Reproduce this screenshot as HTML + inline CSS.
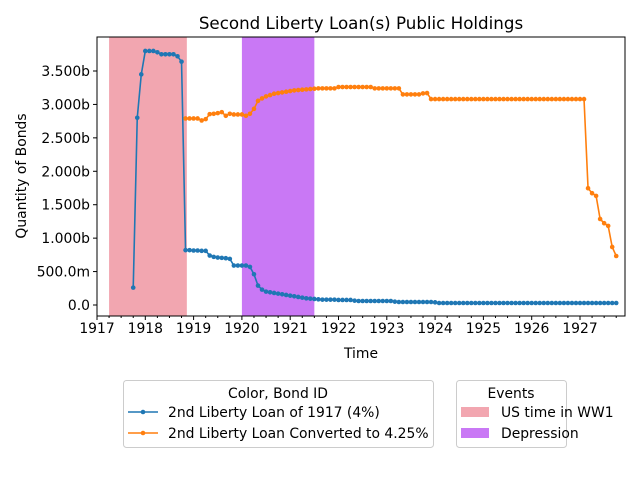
<!DOCTYPE html>
<html><head><meta charset="utf-8"><style>
body{margin:0;background:#fff}
svg{display:block;font-family:"DejaVu Sans","Liberation Sans",sans-serif}
</style></head><body>
<svg id="chart" width="640" height="480" viewBox="0 0 640 480">
<g id="spans"></g><g id="series"></g><g id="axes"></g>
<text x="361" y="29" font-size="16.7" text-anchor="middle">Second Liberty Loan(s) Public Holdings</text>
<text x="361" y="358" font-size="13.9" text-anchor="middle">Time</text>
<text x="26" y="176" font-size="13.9" text-anchor="middle" transform="rotate(-90 26 176)">Quantity of Bonds</text>
<g>
<rect x="123.5" y="380.5" width="310" height="67" rx="3" fill="#fff" stroke="#ccc"/>
<text x="278" y="398" font-size="13.9" text-anchor="middle">Color, Bond ID</text>
<g><line x1="128" x2="158" y1="412" y2="412" stroke="#1f77b4" stroke-width="1.6"/><circle cx="143" cy="412" r="2.3" fill="#1f77b4"/><text x="168" y="417" font-size="13.9">2nd Liberty Loan of 1917 (4%)</text></g>
<g><line x1="128" x2="158" y1="433" y2="433" stroke="#ff7f0e" stroke-width="1.6"/><circle cx="143" cy="433" r="2.3" fill="#ff7f0e"/><text x="168" y="438" font-size="13.9">2nd Liberty Loan Converted to 4.25%</text></g>
</g>
<g>
<rect x="456.5" y="380.5" width="110" height="67" rx="3" fill="#fff" stroke="#ccc"/>
<text x="511" y="398" font-size="13.9" text-anchor="middle">Events</text>
<g><rect x="461" y="407" width="28" height="10" fill="#f2a6b0"/><text x="501" y="417" font-size="13.9">US time in WW1</text></g>
<g><rect x="461" y="428" width="28" height="10" fill="#c978f5"/><text x="501" y="438" font-size="13.9">Depression</text></g>
</g>
</svg>
<script>
const blueStart = 1917.75;
const blueValues = [260,2800,3450,
3800,3800,3800,3780,3750,3750,3750,3750,3720,3640,820,820,
815,815,810,810,740,720,710,705,700,690,590,590,
590,590,570,460,290,230,200,190,180,170,160,150,
140,130,120,110,100,95,90,85,80,80,80,80,
75,75,75,75,65,60,60,60,60,60,60,60,
60,60,50,45,45,45,45,45,45,45,45,45,
40,30,30,30,30,30,30,30,30,30,30,30,
30,30,30,30,30,30,30,30,30,30,30,30,
30,30,30,30,30,30,30,30,30,30,30,30,
30,30,30,30,30,30,30,30,30,30];
const orangeStart = 1918.8333;
const orangeValues = [2790,2790,
2790,2790,2760,2780,2855,2860,2870,2885,2830,2860,2850,2850,
2850,2830,2860,2934,3054,3090,3120,3140,3160,3170,3180,3190,
3200,3210,3215,3220,3225,3230,3235,3240,3240,3240,3240,3240,
3260,3260,3260,3260,3260,3260,3260,3260,3260,3240,3240,3240,
3240,3240,3240,3240,3150,3150,3150,3150,3150,3165,3170,3080,
3080,3080,3080,3080,3080,3080,3080,3080,3080,3080,3080,3080,
3080,3080,3080,3080,3080,3080,3080,3080,3080,3080,3080,3080,
3080,3080,3080,3080,3080,3080,3080,3080,3080,3080,3080,3080,
3080,3080,1747,1672,1632,1287,1223,1183,868,733];
const eventNames = ["US time in WW1","Depression"];
const eventStarts = [1917.25,1920.0];
const eventEnds = [1918.86,1921.5];
const xTicks = [1917,1918,1919,1920,1921,1922,1923,1924,1925,1926,1927];
const yTicks = [0,500,1000,1500,2000,2500,3000,3500];
const yTickLabels = ["0.0","500.0m","1.000b","1.500b","2.000b","2.500b","3.000b","3.500b"];

const NS="http://www.w3.org/2000/svg";
const L=97,R=625,T=37,B=316;
const x=t=>97+48.3*(t-1917);
const y=v=>305-v*(234/3500);
function mk(tag,attrs,parent){const e=document.createElementNS(NS,tag);for(const k in attrs)e.setAttribute(k,attrs[k]);parent.appendChild(e);return e;}
const spans=document.getElementById('spans'),ser=document.getElementById('series'),ax=document.getElementById('axes');
const spanColors=["#f2a6b0","#c978f5"];
eventNames.forEach((n,i)=>{
 const r=mk('rect',{x:x(eventStarts[i]),y:T,width:x(eventEnds[i])-x(eventStarts[i]),height:B-T,fill:spanColors[i]},spans);
 
 
});
function drawSeries(start,vals,color,name){
 const g=mk('g',{},ser);
 
 
 const pts=vals.map((v,i)=>[x(start+i/12),y(v)]);
 mk('polyline',{points:pts.map(p=>p.join(',')).join(' '),fill:'none',stroke:color,'stroke-width':1.6},g);
 pts.forEach(p=>{const c=mk('circle',{cx:p[0],cy:p[1],r:2.3,fill:color},g);
  
  });
}
drawSeries(blueStart,blueValues,'#1f77b4','series-4pct');
drawSeries(orangeStart,orangeValues,'#ff7f0e','series-converted-425pct');
const fr=mk('rect',{x:L,y:T,width:R-L,height:B-T,fill:'none',stroke:'#000','stroke-width':1},ax);


xTicks.forEach(t=>{
 mk('line',{x1:x(t),x2:x(t),y1:B,y2:B+4,stroke:'#000'},ax);
 const tx=mk('text',{x:x(t),y:B+17,'font-size':13.9,'text-anchor':'middle'},ax);tx.textContent=t;
 
 
 for(let q=1;q<4;q++){const xm=x(t+q/4);if(xm<R)mk('line',{x1:xm,x2:xm,y1:B,y2:B+2,stroke:'#000'},ax);}
});
yTicks.forEach((v,i)=>{
 mk('line',{x1:L-4,x2:L,y1:y(v),y2:y(v),stroke:'#000'},ax);
 const tx=mk('text',{x:L-7,y:y(v)+5,'font-size':13.9,'text-anchor':'end'},ax);tx.textContent=yTickLabels[i];
 
 
});
</script>
</body></html>
